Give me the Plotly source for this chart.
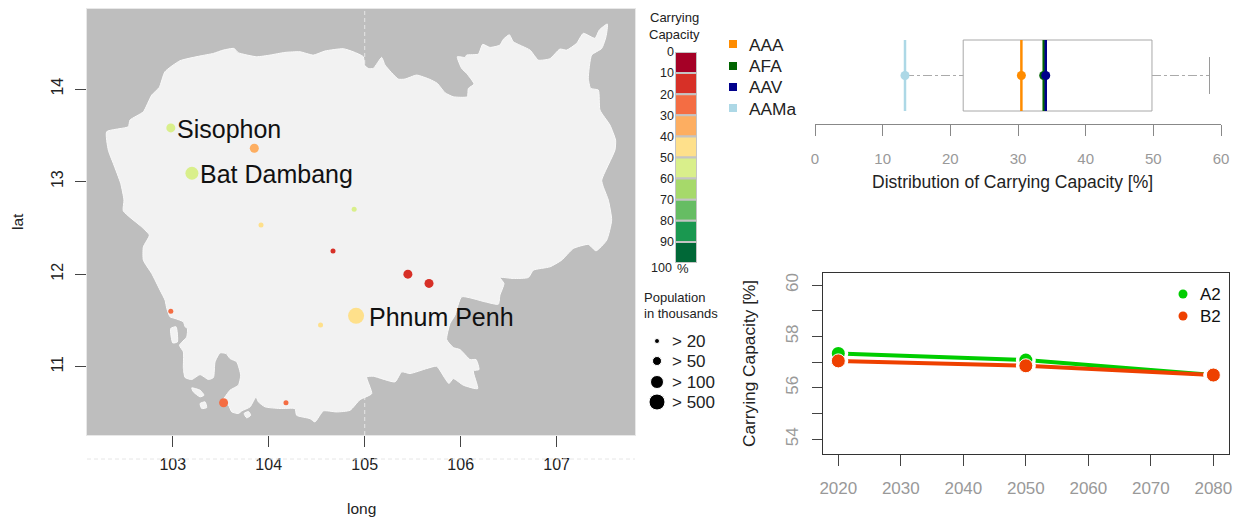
import plotly.graph_objects as go

W, H = 1238, 519
FONT = "Liberation Sans"

# ---------- map data ----------
coast_lon = [102.312,102.537,102.555,102.694,102.781,102.860,102.919,103.076,103.284,103.423,103.527,103.638,103.683,103.874,104.013,104.169,104.326,104.465,104.586,104.777,104.881,
 104.986,104.996,105.038,105.090,105.177,105.212,105.350,105.420,105.541,105.680,105.757,105.837,105.923,106.069,106.080,106.139,106.062,106.010,105.965,106.045,106.062,106.184,106.229,106.305,106.409,106.444,106.507,106.548,106.722,106.809,106.930,107.034,107.104,107.208,107.278,107.399,107.444,107.528,107.514,107.469,107.364,107.330,107.354,107.434,107.451,107.555,107.614,107.607,107.469,107.486,107.538,107.573,107.521,107.410,107.330,107.173,
 107.052,106.930,106.757,106.705,106.548,106.409,106.451,106.409,106.392,106.253,106.010,105.941,105.889,105.854,105.923,105.993,106.097,106.160,106.191,106.132,106.177,106.028,105.923,105.878,105.837,105.750,105.646,105.472,105.385,105.316,105.090,105.021,105.073,104.951,104.847,
 104.708,104.569,104.482,104.430,104.291,104.274,104.118,103.962,103.892,103.868,103.806,103.719,103.684,103.615,103.580,103.510,103.545,103.597,103.684,103.708,103.667,103.597,103.556,103.493,103.441,103.424,103.372,103.285,103.198,103.129,103.111,103.111,103.070,103.146,103.153,103.129,103.111,103.024,102.972,102.938,102.920,102.868,102.781,102.694,
 102.694,102.756,102.676,102.485,102.492,102.458,102.381,102.329,102.312, None,
 102.979,103.035,103.049,103.000,102.979, None,
 103.198,103.285,103.326,103.285,103.215,103.198, None,
 103.285,103.337,103.354,103.302,103.285, None,
 103.743,103.788,103.813,103.771,103.743]
coast_lat = [13.539,13.593,13.665,13.755,13.935,14.018,14.187,14.306,14.357,14.385,14.421,14.439,14.393,14.349,14.367,14.396,14.403,14.367,14.411,14.436,14.403,
 14.349,14.259,14.223,14.223,14.342,14.259,14.108,14.108,14.151,14.104,14.061,13.960,13.917,13.917,14.007,14.054,14.169,14.223,14.349,14.342,14.367,14.378,14.483,14.450,14.475,14.537,14.587,14.512,14.421,14.313,14.328,14.432,14.421,14.494,14.602,14.548,14.638,14.703,14.566,14.439,14.367,14.115,14.007,13.989,13.773,13.611,13.448,13.340,13.016,12.944,12.800,12.584,12.367,12.252,12.321,12.277,
 12.151,12.079,12.043,11.964,11.953,11.964,11.899,11.773,11.675,11.701,11.755,11.556,11.466,11.293,11.207,11.185,11.077,11.077,10.969,10.955,10.763,10.800,10.872,10.818,10.872,11.005,10.980,10.926,10.944,10.836,10.897,10.890,10.709,10.644,10.529,
 10.511,10.522,10.403,10.439,10.475,10.547,10.548,10.566,10.620,10.674,10.566,10.522,10.494,10.512,10.584,10.620,10.674,10.746,10.800,10.908,11.052,11.088,11.142,11.149,11.052,10.883,10.861,10.915,10.861,10.883,10.980,11.160,11.232,11.322,11.413,11.431,11.485,11.521,11.539,11.629,11.719,11.827,12.007,12.151,
 12.295,12.421,12.511,12.684,12.800,12.980,13.196,13.340,13.539, None,
 11.413,11.431,11.268,11.257,11.413, None,
 10.771,10.746,10.692,10.674,10.728,10.771, None,
 10.602,10.620,10.558,10.548,10.602, None,
 10.494,10.516,10.476,10.447,10.494]

city_lon = [102.98,103.85,103.20,103.92,104.89,104.67,105.45,105.67,104.91,104.54,102.98,103.53,104.18]
city_lat = [13.58,13.36,13.09,12.53,12.70,12.25,12.00,11.90,11.55,11.45,11.60,10.61,10.61]
city_cc = [55,35,55,45,55,15,15,15,45,45,25,25,25]
city_size = [9,9,13,5,5,5,9,9,16,5,5,9,5]
city_name = ["Sisophon","","Bat Dambang","","","","","","Phnum Penh","","","",""]

# ---------- colour scale ----------
cc_breaks = [0,10,20,30,40,50,60,70,80,90]
cc_colors = ["#A50026","#D73027","#F46D43","#FDAE61","#FEE08B","#D9EF8B","#A6D96A","#66BD63","#1A9850","#006837"]
def cc_col(v):
    return cc_colors[int(v // 10)]

pop_labels = ["> 20","> 50","> 100","> 500"]
pop_sizes = [5,9,13,16]

# ---------- box plot data ----------
box_q1, box_q3 = 21.9, 49.8
box_low, box_high = 13.3, 58.3
sys_names = ["AAA","AFA","AAV","AAMa"]
sys_vals = [30.5,33.8,34.1,13.3]
sys_cols = ["#FF8C00","#006400","#00008B","#ADD8E6"]

# ---------- scenario data ----------
years = [2020,2050,2080]
a2 = [57.34,57.08,56.50]
b2 = [57.05,56.86,56.50]
A2_COL, B2_COL = "#00CD00", "#EE4000"

def dx(a,b): return [a/W, b/W]
def dy(top,bottom): return [1-bottom/H, 1-top/H]

fig = go.Figure()

# ---- map ----
fig.add_trace(go.Scatter(x=[105,105], y=[10.262,14.865], mode="lines",
    line=dict(color="#E6E6E6", width=1, dash="4px,3px"), xaxis="x", yaxis="y", hoverinfo="skip"))
fig.add_trace(go.Scatter(x=coast_lon, y=coast_lat, mode="lines", fill="toself", fillcolor="#F2F2F2",
    line=dict(color="#FAFAFA", width=1, shape="spline", smoothing=0.5), xaxis="x", yaxis="y", hoverinfo="skip"))
fig.add_trace(go.Scatter(x=city_lon, y=city_lat, mode="markers",
    marker=dict(size=city_size, color=[cc_col(v) for v in city_cc], line=dict(width=0), opacity=1),
    xaxis="x", yaxis="y"))
for lo, la, s, n in zip(city_lon, city_lat, city_size, city_name):
    if n:
        fig.add_annotation(x=lo, y=la, xref="x", yref="y", text=n, showarrow=False, xanchor="left",
                           xshift=s/2+max(0,s-13), yshift=-1, font=dict(size=25, color="#111111", family=FONT))

# ---- colour bar ----
fig.add_trace(go.Bar(x=[0]*len(cc_breaks), y=[10]*len(cc_breaks), base=cc_breaks, width=1,
    marker=dict(color=cc_colors, line=dict(color="#C4C4C4", width=2)),
    xaxis="x2", yaxis="y2", hoverinfo="skip"))

# ---- box plot ----
fig.add_trace(go.Scatter(x=[box_q1,box_q3,box_q3,box_q1,box_q1], y=[0,0,1,1,0], mode="lines",
    line=dict(color="#A8A8A8", width=1), xaxis="x3", yaxis="y3", hoverinfo="skip"))
for xs in ([box_low, box_q1], [box_q3, box_high]):
    fig.add_trace(go.Scatter(x=xs, y=[0.5,0.5], mode="lines",
        line=dict(color="#AAAAAA", width=1, dash="dashdot"), xaxis="x3", yaxis="y3", hoverinfo="skip"))
fig.add_trace(go.Scatter(x=[box_high,box_high], y=[0.24,0.76], mode="lines",
    line=dict(color="#9A9A9A", width=1), xaxis="x3", yaxis="y3", hoverinfo="skip"))
for v, c in zip(sys_vals, sys_cols):
    fig.add_trace(go.Scatter(x=[v,v], y=[0,1], mode="lines", line=dict(color=c, width=2.5),
                             xaxis="x3", yaxis="y3", hoverinfo="skip"))
fig.add_trace(go.Scatter(x=[sys_vals[3],sys_vals[0],sys_vals[1],sys_vals[2]], y=[0.5,0.5,0.5,0.5], mode="markers",
    marker=dict(size=9, color=[sys_cols[3],sys_cols[0],sys_cols[1],sys_cols[2]]), xaxis="x3", yaxis="y3", hoverinfo="skip"))

# ---- scenario lines ----
fig.add_trace(go.Scatter(x=years, y=a2, mode="lines", line=dict(color=A2_COL, width=4), xaxis="x4", yaxis="y4"))
fig.add_trace(go.Scatter(x=years, y=b2, mode="lines", line=dict(color=B2_COL, width=4), xaxis="x4", yaxis="y4"))
for ys in (a2, b2):
    fig.add_trace(go.Scatter(x=years, y=ys, mode="markers", marker=dict(size=20, color="white"),
                             xaxis="x4", yaxis="y4", hoverinfo="skip"))
fig.add_trace(go.Scatter(x=years, y=a2, mode="markers", marker=dict(size=13, color=A2_COL), xaxis="x4", yaxis="y4"))
fig.add_trace(go.Scatter(x=years, y=b2, mode="markers", marker=dict(size=14, color=B2_COL, line=dict(color="#FFFFFF", width=1)), xaxis="x4", yaxis="y4"))

# ---- overlay in page pixels: legends ----
fig.add_trace(go.Scatter(x=[733]*4, y=[44,66,87,108], mode="markers",
    marker=dict(symbol="square", size=8, color=sys_cols), xaxis="x5", yaxis="y5", hoverinfo="skip"))
fig.add_trace(go.Scatter(x=[657]*4, y=[341,361,382,402], mode="markers",
    marker=dict(size=pop_sizes, color=["#000000"]*4, opacity=1), xaxis="x5", yaxis="y5", hoverinfo="skip"))
fig.add_trace(go.Scatter(x=[1183,1183], y=[294,316], mode="markers",
    marker=dict(size=9, color=[A2_COL,B2_COL]), xaxis="x5", yaxis="y5", hoverinfo="skip"))

def label(px, py, text, size=14, color="#222222", anchor="left", angle=0):
    fig.add_annotation(x=px/W, y=1-py/H, xref="paper", yref="paper", text=text, showarrow=False,
        xanchor=anchor, yanchor="middle", textangle=angle, font=dict(size=size, color=color, family=FONT))

for n, py in zip(sys_names, [45,66,87,109]):
    label(747, py, n, 17.3)
for n, py in zip(pop_labels, [341,361,382,402]):
    label(670, py, n, 17)
label(674, 18, "Carrying", 13, anchor="center")
label(674, 34, "Capacity", 13, anchor="center")
label(674, 268, "100", 12.5, anchor="right")
label(675, 268, "%", 13)
label(642, 297, "Population", 13)
label(642, 313, "in thousands", 13)
label(1198, 294, "A2", 17, color="#111111")
label(1198, 316, "B2", 17, color="#111111")
label(17, 222, "lat", 15.5, anchor="center", angle=-90)
label(361, 508, "long", 15.5, anchor="center")
label(1012, 182, "Distribution of Carrying Capacity [%]", 17.5, anchor="center")
label(749, 364, "Carrying Capacity [%]", 17.3, anchor="center", angle=-90)

axis_base = dict(showgrid=False, zeroline=False, automargin=False)

fig.update_layout(
    width=W, height=H, margin=dict(l=0,r=0,t=0,b=0), autosize=False,
    paper_bgcolor="white", plot_bgcolor="rgba(0,0,0,0)", showlegend=False, barmode="overlay",
    xaxis=dict(domain=dx(87,635), range=[102.107,107.816], tickvals=[103,104,105,106,107], ticks="outside",
        ticklen=11, tickcolor="#444444", showline=True, mirror=True, linecolor="#E8E8E8",
        tickfont=dict(size=16, color="#222222", family=FONT), ticklabelstandoff=4, anchor="y", **axis_base),
    yaxis=dict(domain=dy(9,435), range=[10.262,14.865], tickvals=[11,12,13,14], ticks="outside",
        ticklen=11, tickcolor="#444444", showline=True, mirror=True, linecolor="#E8E8E8", tickangle=-90,
        tickfont=dict(size=16, color="#222222", family=FONT), ticklabelstandoff=6, anchor="x", **axis_base),
    xaxis2=dict(domain=dx(675,697), range=[-0.5,0.5], visible=False, anchor="y2", **axis_base),
    yaxis2=dict(domain=dy(52,263), range=[100,0], tickvals=cc_breaks, ticks="", showline=False,
        tickfont=dict(size=12.5, color="#222222", family=FONT), anchor="x2", **axis_base),
    xaxis3=dict(domain=dx(815,1221), range=[0,60], tickvals=[0,10,20,30,40,50,60], ticks="outside", ticklen=11,
        tickcolor="#888888", showline=True, linecolor="#888888", linewidth=1,
        tickfont=dict(size=15, color="#999999", family=FONT), ticklabelstandoff=10, anchor="y3", **axis_base),
    yaxis3=dict(domain=dy(30,124), range=[-0.183,1.141], visible=False, anchor="x3", **axis_base),
    xaxis4=dict(domain=dx(823.3,1229), range=[2017.6,2082.5], tickvals=[2020,2030,2040,2050,2060,2070,2080],
        ticks="outside", ticklen=11, tickcolor="#444444", showline=True, mirror=True, linecolor="#333333", linewidth=1,
        tickfont=dict(size=17, color="#999999", family=FONT), ticklabelstandoff=8, anchor="y4", **axis_base),
    yaxis4=dict(domain=dy(273.3,454), range=[53.43,60.455], tickvals=[54,55,56,57,58,59,60],
        ticktext=["54","","56","","58","","60"], ticks="outside", ticklen=10, tickcolor="#444444",
        showline=True, mirror=True, linecolor="#333333", linewidth=1, tickangle=-90,
        tickfont=dict(size=17, color="#999999", family=FONT), ticklabelstandoff=8, anchor="x4", **axis_base),
    xaxis5=dict(domain=[0,1], range=[0,W], visible=False, anchor="y5", **axis_base),
    yaxis5=dict(domain=[0,1], range=[H,0], visible=False, anchor="x5", **axis_base),
    shapes=[
        dict(type="rect", xref="x domain", yref="y domain", x0=0, x1=1, y0=0, y1=1, layer="below",
             fillcolor="#BEBEBE", line=dict(width=0)),
        dict(type="line", xref="x domain", yref="paper", x0=0, x1=1, y0=1-459/H, y1=1-459/H,
             line=dict(color="#E6E6E6", width=1, dash="4px,3px")),
    ],
)
fig.update_xaxes(fixedrange=True)
fig.update_yaxes(fixedrange=True)
fig.write_html("out.html", config=dict(displayModeBar=False),
               post_script="document.body.style.margin='0';")
